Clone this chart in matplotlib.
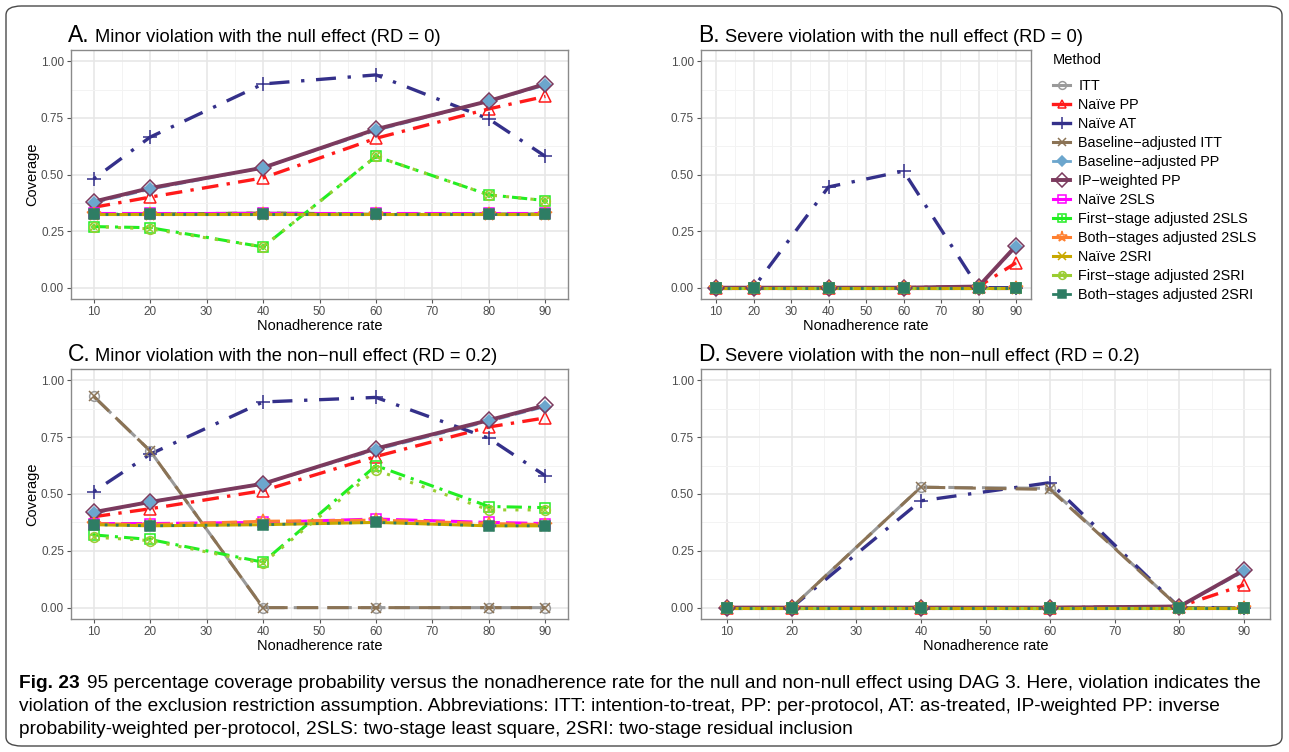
import matplotlib
matplotlib.use("Agg")
import matplotlib.pyplot as plt
from matplotlib.lines import Line2D
from matplotlib.patches import FancyBboxPatch
from matplotlib.ticker import MultipleLocator

plt.rcParams['font.family'] = ['Liberation Sans', 'DejaVu Sans']

# data
rates = [10, 20, 40, 60, 80, 90]

methods = ["ITT", "Naïve PP", "Naïve AT", "Baseline\u2212adjusted ITT",
           "Baseline\u2212adjusted PP", "IP\u2212weighted PP", "Naïve 2SLS",
           "First\u2212stage adjusted 2SLS", "Both\u2212stages adjusted 2SLS",
           "Naïve 2SRI", "First\u2212stage adjusted 2SRI", "Both\u2212stages adjusted 2SRI"]

# rows follow the order of methods
cov_A = [
    [0.325, 0.325, 0.33, 0.325, 0.325, 0.325],
    [0.355, 0.40, 0.485, 0.66, 0.79, 0.845],
    [0.48, 0.665, 0.90, 0.94, 0.745, 0.58],
    [0.325, 0.325, 0.33, 0.325, 0.325, 0.325],
    [0.375, 0.435, 0.53, 0.695, 0.825, 0.895],
    [0.38, 0.44, 0.53, 0.70, 0.825, 0.90],
    [0.33, 0.33, 0.33, 0.33, 0.33, 0.33],
    [0.27, 0.265, 0.18, 0.58, 0.41, 0.385],
    [0.325, 0.325, 0.325, 0.325, 0.325, 0.325],
    [0.325, 0.325, 0.325, 0.325, 0.325, 0.325],
    [0.27, 0.26, 0.18, 0.58, 0.41, 0.385],
    [0.325, 0.325, 0.325, 0.325, 0.325, 0.325],
]
cov_B = [
    [0, 0, 0, 0, 0, 0],
    [0, 0, 0, 0, 0.005, 0.11],
    [0, 0, 0.445, 0.515, 0, 0],
    [0, 0, 0, 0, 0, 0],
    [0, 0, 0, 0, 0.005, 0.18],
    [0, 0, 0, 0, 0.005, 0.185],
    [0, 0, 0, 0, 0, 0],
    [0, 0, 0, 0, 0, 0],
    [0, 0, 0, 0, 0, 0],
    [0, 0, 0, 0, 0, 0],
    [0, 0, 0, 0, 0, 0],
    [0, 0, 0, 0, 0, 0],
]
cov_C = [
    [0.93, 0.69, 0.0, 0.0, 0.0, 0.0],
    [0.40, 0.435, 0.515, 0.665, 0.795, 0.835],
    [0.51, 0.675, 0.905, 0.925, 0.745, 0.58],
    [0.93, 0.69, 0.0, 0.0, 0.0, 0.0],
    [0.415, 0.465, 0.545, 0.695, 0.82, 0.885],
    [0.42, 0.465, 0.545, 0.70, 0.825, 0.89],
    [0.37, 0.37, 0.375, 0.39, 0.375, 0.37],
    [0.32, 0.30, 0.20, 0.625, 0.445, 0.44],
    [0.37, 0.365, 0.38, 0.385, 0.37, 0.365],
    [0.365, 0.36, 0.365, 0.375, 0.36, 0.36],
    [0.31, 0.295, 0.195, 0.605, 0.43, 0.43],
    [0.365, 0.36, 0.365, 0.375, 0.36, 0.36],
]
cov_D = [
    [0, 0, 0.53, 0.525, 0, 0],
    [0, 0, 0, 0, 0.005, 0.10],
    [0, 0, 0.47, 0.55, 0, 0],
    [0, 0, 0.53, 0.52, 0, 0],
    [0, 0, 0, 0, 0.005, 0.16],
    [0, 0, 0, 0, 0.005, 0.165],
    [0, 0, 0, 0, 0, 0],
    [0, 0, 0, 0, 0, 0],
    [0, 0, 0, 0, 0, 0],
    [0, 0, 0, 0, 0, 0],
    [0, 0, 0, 0, 0, 0],
    [0, 0, 0, 0, 0, 0],
]

colors = ["#9a9a9a", "#ff1a1a", "#34308a", "#8b7355", "#6ca6cd", "#7b3a5e",
          "#ff00ff", "#22ee22", "#ff8030", "#c8a800", "#9acd32", "#2e7d64"]
styles = [(0, (8, 3)), (0, (5, 2.5, 1, 2.5)), (0, (1, 3.5, 6, 3.5)), (0, (7, 3)),
          (0, (4, 2)), "-", (0, (7, 2)), (0, (5, 2, 1, 2)), (0, (5, 2)),
          "-", (0, (1, 3)), (0, (1, 3))]
widths = [2.2, 2.4, 2.4, 2.2, 2.0, 2.8, 2.2, 2.2, 2.2, 2.2, 2.2, 2.0]

# marker layers per method: (marker, filled, size, extra marker)
marks = [("o", False, 7, None), ("^", False, 8, None), ("+", False, 10, None),
         ("x", False, 7, None), ("D", True, 6, None), ("D", False, 8.5, None),
         ("s", False, 7, None), ("s", False, 7, "+"), ("*", False, 10, None),
         ("x", False, 7, None), ("o", False, 7, "x"), ("s", True, 7, None)]


def draw_method(ax, i, y):
    c = colors[i]
    ax.plot(rates, y, color=c, ls=styles[i], lw=widths[i], zorder=2 + i * 0.1,
            solid_capstyle="butt", dash_capstyle="butt")
    m, filled, ms, extra = marks[i]
    ax.plot(rates, y, ls="none", marker=m, ms=ms, mec=c,
            mfc=c if filled else "none", mew=1.1, zorder=3 + i * 0.1)
    if extra:
        ax.plot(rates, y, ls="none", marker=extra, ms=ms * 0.7, mec=c,
                mew=1.1, zorder=3 + i * 0.1)


W, H = 1289, 752
fig = plt.figure(figsize=(W / 100, H / 100), dpi=100)

# rounded frame around the whole figure
fig.patches.append(FancyBboxPatch((6 / W, 1 - 746 / H), 1276 / W, 740 / H,
                                  boxstyle="round,pad=0,rounding_size=0.012",
                                  transform=fig.transFigure, fill=False,
                                  ec="#4a4a4a", lw=1.0))


def ax_at(l, t, r, b):
    return fig.add_axes([l / W, 1 - b / H, (r - l) / W, (b - t) / H])


panels = [
    (cov_A, (71, 50, 568, 299), "A.", "Minor violation with the null effect (RD = 0)", True),
    (cov_B, (701, 50, 1031, 299), "B.", "Severe violation with the null effect (RD = 0)", False),
    (cov_C, (71, 369, 568, 619), "C.", "Minor violation with the non\u2212null effect (RD = 0.2)", True),
    (cov_D, (701, 369, 1270, 619), "D.", "Severe violation with the non\u2212null effect (RD = 0.2)", False),
]

for cov, box, letter, title, ylab in panels:
    ax = ax_at(*box)
    for i in range(len(methods)):
        draw_method(ax, i, cov[i])
    ax.set_xlim(6, 94)
    ax.set_ylim(-0.05, 1.05)
    ax.set_xticks(range(10, 91, 10))
    ax.set_yticks([0, 0.25, 0.5, 0.75, 1.0])
    ax.set_yticklabels(["0.00", "0.25", "0.50", "0.75", "1.00"])
    ax.xaxis.set_minor_locator(MultipleLocator(5))
    ax.yaxis.set_minor_locator(MultipleLocator(0.125))
    ax.grid(True, which="major", color="#e6e6e6", lw=1.1)
    ax.grid(True, which="minor", color="#f3f3f3", lw=0.7)
    ax.set_axisbelow(True)
    ax.tick_params(which="major", length=3, width=0.8, color="#555555",
                   labelsize=8.5, labelcolor="#4d4d4d", pad=2)
    ax.tick_params(which="minor", length=0)
    for s in ax.spines.values():
        s.set_color("#8a8a8a")
        s.set_linewidth(1.0)
    ax.set_xlabel("Nonadherence rate", fontsize=10.5, labelpad=1)
    if ylab:
        ax.set_ylabel("Coverage", fontsize=10.5, labelpad=1)
    l, t = box[0], box[1]
    fig.text((l - 3) / W, 1 - (t - 8) / H, letter, fontsize=16.5, va="baseline")
    fig.text((l + 24) / W, 1 - (t - 8) / H, title, fontsize=13.2, va="baseline")

# legend
handles = []
for i in range(len(methods)):
    m, filled, ms, extra = marks[i]
    c = colors[i]
    base = Line2D([], [], color=c, ls="-", lw=widths[i], marker=m, ms=ms * 0.8,
                  mec=c, mfc=c if filled else "none", mew=1.1)
    if extra:
        top = Line2D([], [], ls="none", marker=extra, ms=ms * 0.55, mec=c, mew=1.1)
        handles.append((base, top))
    else:
        handles.append(base)
leg = fig.legend(handles, methods, loc="upper left",
                 bbox_to_anchor=(1040 / W, 1 - 40 / H), frameon=False,
                 title="Method", fontsize=10.4, title_fontsize=10.5,
                 handlelength=1.2, handletextpad=0.55, labelspacing=0.345,
                 alignment="left")
leg._legend_box.sep = 9

# caption
fs = 13.8
fig.text(19 / W, 1 - 688 / H, "Fig. 23", fontsize=fs, fontweight="bold",
         va="baseline")
fig.text(87 / W, 1 - 688 / H,
         "95 percentage coverage probability versus the nonadherence rate for the null and non-null effect using DAG 3. Here, violation indicates the",
         fontsize=fs, va="baseline")
fig.text(19 / W, 1 - 711 / H,
         "violation of the exclusion restriction assumption. Abbreviations: ITT: intention-to-treat, PP: per-protocol, AT: as-treated, IP-weighted PP: inverse",
         fontsize=fs, va="baseline")
fig.text(19 / W, 1 - 734 / H,
         "probability-weighted per-protocol, 2SLS: two-stage least square, 2SRI: two-stage residual inclusion",
         fontsize=fs, va="baseline")

fig.savefig("out.png", dpi=100)
